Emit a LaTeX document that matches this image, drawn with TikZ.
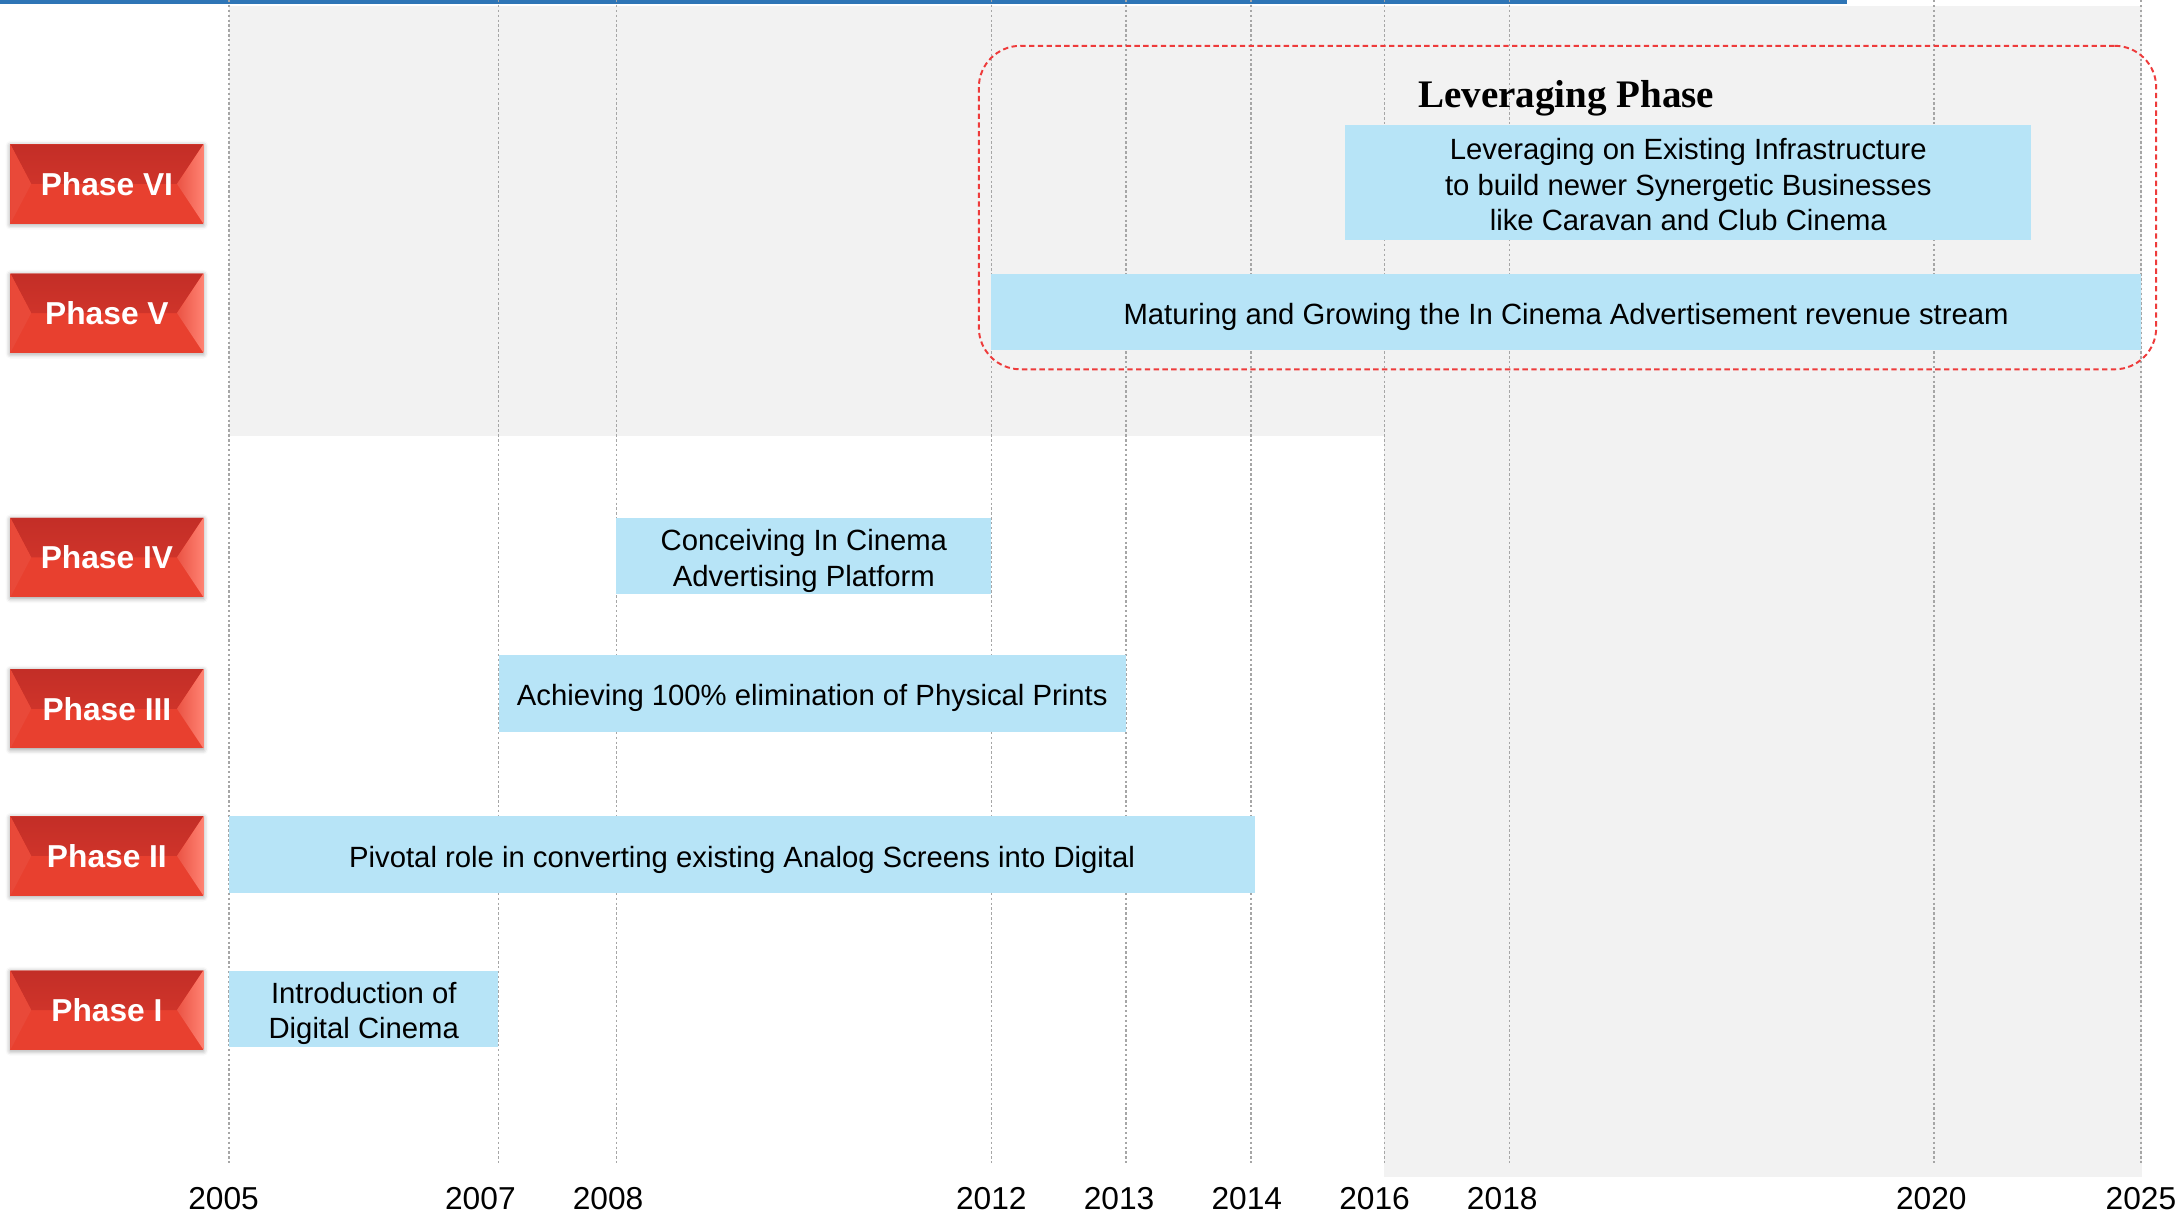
\documentclass[tikz,border=0pt]{standalone}
\usepackage{fontspec}
\setmainfont{Liberation Sans}
\newfontfamily\headfont{Liberation Serif}
\usetikzlibrary{positioning,fit,shadows.blur}

\definecolor{bggray}{HTML}{F2F2F2}
\definecolor{barblue}{HTML}{B7E4F7}
\definecolor{gridgray}{HTML}{A6A6A6}
\definecolor{btnred}{HTML}{E8402F}
\definecolor{btndark}{HTML}{C32E27}
\definecolor{btnmid}{HTML}{DB3A2D}
\definecolor{btnlight}{HTML}{FF8272}
\definecolor{dashred}{HTML}{EE3B3B}
\definecolor{topblue}{HTML}{2E75B6}

\newcommand{\bartext}[1]{\raisebox{-2.2pt}[\height][\depth]{\begin{tabular}{@{}c@{}}#1\end{tabular}}}

\tikzset{
  phasebtn/.style={minimum width=2.78cm, minimum height=1.14cm, inner sep=0pt, fill=btnred,
    text=white, font=\fontsize{13}{15}\selectfont\bfseries,
    blur shadow={shadow xshift=0pt, shadow yshift=-0.5pt, shadow blur radius=2pt, shadow opacity=40},
    path picture={
      \fill[top color=btndark, bottom color=btnmid] (path picture bounding box.north west) -- (path picture bounding box.north east)
        -- ([xshift=-0.38cm]path picture bounding box.east) -- ([xshift=0.3cm]path picture bounding box.west) -- cycle;
      \fill[btnred!95!white] (path picture bounding box.north west) -- ([xshift=0.3cm]path picture bounding box.west)
        -- (path picture bounding box.south west) -- cycle;
      \fill[left color=btnred!90!white, right color=btnlight] (path picture bounding box.north east)
        -- ([xshift=-0.38cm]path picture bounding box.east) -- (path picture bounding box.south east) -- cycle;
    }},
  phasebar/.style={fill=barblue, inner sep=0pt, minimum height=1.1cm, font=\fontsize{12}{14.5}\selectfont},
  gridline/.style={gridgray, line width=0.5pt, dash pattern=on 1pt off 1pt},
  yearlabel/.style={font=\fontsize{13}{15}\selectfont, inner sep=0pt}
}

\begin{document}
\begin{tikzpicture}[x=0.02cm, y=-0.02cm]
\useasboundingbox (0,0) rectangle (1568,882);
\fill[bggray] (165,4) rectangle (1543,314);
\fill[bggray] (997,314) rectangle (1543,848);
\fill[topblue] (0,0) rectangle (1330,3);

\foreach \xx in {165,359,444,714,811,901,997,1087,1393,1542}
  \draw[gridline] (\xx,0) -- (\xx,838);

\node[phasebar, minimum width=3.88cm] (bar1) at (262,726.5) {\bartext{Introduction of\\Digital Cinema}};
\node[phasebar, minimum width=14.78cm] (bar2) at (534.5,615.5) {\bartext{Pivotal role in converting existing Analog Screens into Digital}};
\node[phasebar, minimum width=9.04cm] (bar3) at (585,499.5) {\bartext{Achieving 100\% elimination of Physical Prints}};
\node[phasebar, minimum width=5.4cm] (bar4) at (579,400.5) {\bartext{Conceiving In Cinema\\Advertising Platform}};
\node[phasebar, minimum width=16.56cm] (bar5) at (1128,224.5) {\bartext{Maturing and Growing the In Cinema Advertisement revenue stream}};
\node[phasebar, minimum width=9.88cm, minimum height=1.66cm] (bar6) at (1216,131.5) {\bartext{Leveraging on Existing Infrastructure\\to build newer Synergetic Businesses\\like Caravan and Club Cinema}};

\node[phasebtn] (ph6) at (77,132.5) {Phase VI};
\node[phasebtn] (ph5) at (77,225.5) {Phase V};
\node[phasebtn] (ph4) at (77,401.5) {Phase IV};
\node[phasebtn] (ph3) at (77,510.5) {Phase III};
\node[phasebtn] (ph2) at (77,616.5) {Phase II};
\node[phasebtn] (ph1) at (77,727.5) {Phase I};

\node[draw=dashred, dash pattern=on 2.2pt off 1.4pt, line width=0.8pt, rounded corners=0.6cm, inner sep=0pt,
  fit={(705,33) (1553,266)}] (levbox) {};
\node[font=\headfont\fontsize{16}{18}\selectfont\bfseries] (levtitle) at (1128,71) {Leveraging Phase};

\foreach \xx/\yr in {161/2005,346/2007,438/2008,714/2012,806/2013,898/2014,990/2016,1082/2018,1391/2020,1542/2025}
  \node[yearlabel] (y\yr) at (\xx,863) {\yr};
\end{tikzpicture}
\end{document}
